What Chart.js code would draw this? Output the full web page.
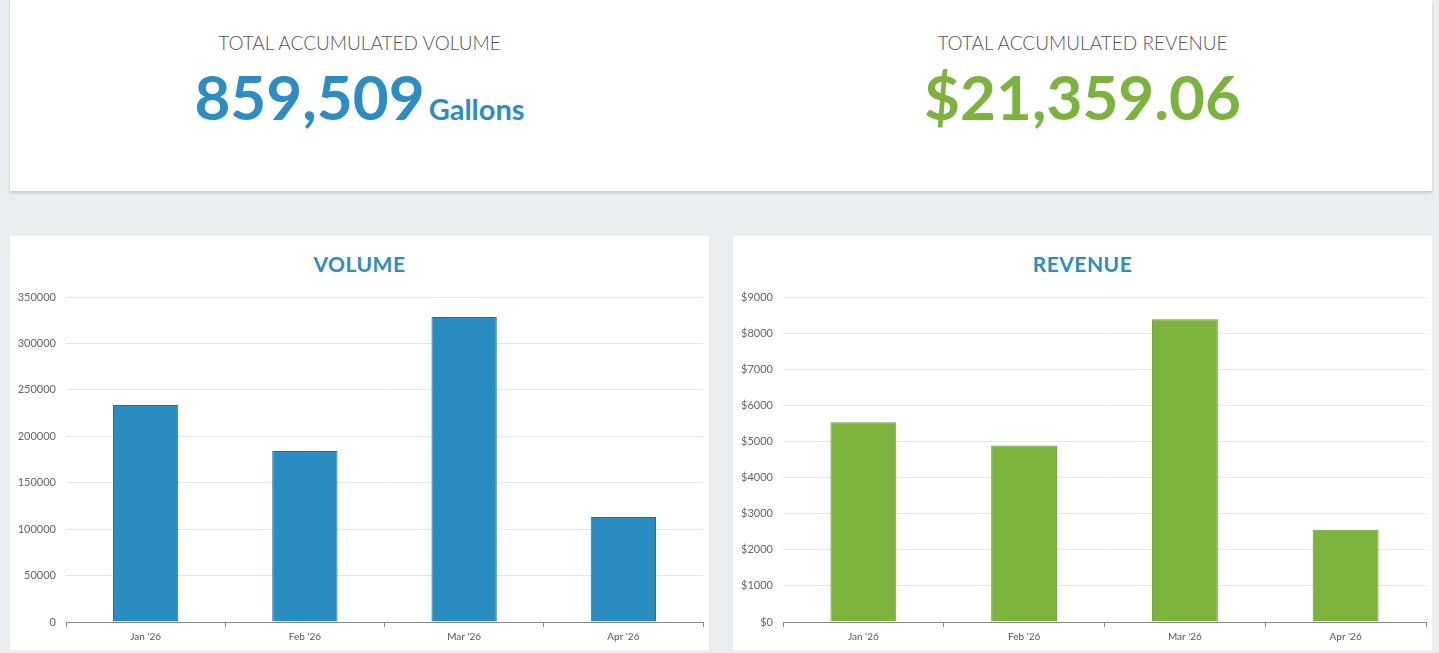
<!DOCTYPE html>
<html>
<head>
<meta charset="utf-8">
<script src="https://cdn.jsdelivr.net/npm/chart.js@4.4.1/dist/chart.umd.min.js"></script>
<style>
  html, body { margin:0; padding:0; }
  body { width:1439px; height:653px; background:#eaeef1; position:relative; overflow:hidden; font-family:Lato, "Open Sans", sans-serif; }
  .card { position:absolute; background:#fff; }
  #top { left:10px; top:0; width:1422px; height:191px; box-shadow:0 2px 3px rgba(0,0,0,0.16); }
  .lbl { position:absolute; width:699px; text-align:center; font-weight:300; font-size:19px; color:#555; top:31px; letter-spacing:0px; }
  .big { position:absolute; width:699px; text-align:center; top:65px; font-weight:700; line-height:1; white-space:nowrap; }
  .big .n { font-size:62px; }
  .big .u { font-size:29px; margin-left:4px; }
  .ctitle { position:absolute; left:0; width:699px; top:253px; text-align:center; font-weight:700; font-size:21px; color:#2a8dc3; letter-spacing:0.5px; line-height:1; }
  canvas { position:absolute; }
</style>
</head>
<body>
<script>
// ---- data ----
const categories = ["Jan '26", "Feb '26", "Mar '26", "Apr '26"];
const volumeValues = [233700, 184200, 328500, 113109];
const revenueValues = [5530, 4890, 8385, 2554.06];
const volumeTicks = { min: 0, max: 350000, step: 50000 };
const revenueTicks = { min: 0, max: 9000, step: 1000 };
const totalVolumeText = "859,509";
const totalVolumeUnit = "Gallons";
const totalRevenueText = "$21,359.06";
const volumeTitle = "VOLUME";
const revenueTitle = "REVENUE";
const volumeHeader = "TOTAL ACCUMULATED VOLUME";
const revenueHeader = "TOTAL ACCUMULATED REVENUE";
</script>

<div class="card" id="top">
  <div class="lbl" style="left:0" id="h1"></div>
  <div class="big" style="left:0;color:#2a8dc3"><span class="n" id="v1"></span><span class="u" id="u1"></span></div>
  <div class="lbl" style="left:723px" id="h2"></div>
  <div class="big" style="left:723px;color:#7cb33b"><span class="n" id="v2"></span></div>
</div>

<div class="card" style="left:10px;top:236px;width:699px;height:414px;"></div>
<div class="card" style="left:733px;top:236px;width:699px;height:414px;"></div>

<div class="ctitle" style="left:10px" id="t1"></div>
<div class="ctitle" style="left:733px" id="t2"></div>

<canvas id="c1" width="699" height="414" style="left:10px;top:236px"></canvas>
<canvas id="c2" width="699" height="414" style="left:733px;top:236px"></canvas>

<script>
document.getElementById('h1').textContent = volumeHeader;
document.getElementById('h2').textContent = revenueHeader;
document.getElementById('v1').textContent = totalVolumeText;
document.getElementById('u1').textContent = totalVolumeUnit;
document.getElementById('v2').textContent = totalRevenueText;
document.getElementById('t1').textContent = volumeTitle;
document.getElementById('t2').textContent = revenueTitle;

function makeChart(id, values, tk, fill, border, yWidth, fmt) {
  new Chart(document.getElementById(id), {
    type: 'bar',
    data: {
      labels: categories,
      datasets: [{
        data: values,
        backgroundColor: fill,
        borderColor: border,
        borderWidth: 1,
        borderSkipped: 'bottom',
        categoryPercentage: 1,
        barPercentage: 0.41
      }]
    },
    options: {
      responsive: false,
      animation: false,
      events: [],
      layout: { padding: { top: 61, right: 6, left: 0, bottom: 0 } },
      plugins: { legend: { display: false }, tooltip: { enabled: false }, title: { display: false } },
      scales: {
        x: {
          offset: true,
          grid: { offset: true, drawOnChartArea: false, drawTicks: true, tickLength: 5, color: '#888' },
          border: { display: true, color: '#888', width: 1 },
          ticks: { color: '#555', font: { family: 'Lato', size: 10 }, padding: 4, maxRotation: 0 },
          afterFit: s => { s.height = 28; }
        },
        y: {
          min: tk.min, max: tk.max,
          grid: { color: '#e6e6e6', drawTicks: false, lineWidth: 1 },
          border: { display: false },
          ticks: { stepSize: tk.step, color: '#666', font: { family: 'Lato', size: 11 }, padding: 10, callback: fmt },
          afterFit: s => { s.width = yWidth; }
        }
      }
    }
  });
}

makeChart('c1', volumeValues, volumeTicks, '#2a8dc1', '#1f6f9c', 56, v => String(v));
makeChart('c2', revenueValues, revenueTicks, '#7cb33b', '#6a9b32', 50, v => '$' + v);
</script>
</body>
</html>
